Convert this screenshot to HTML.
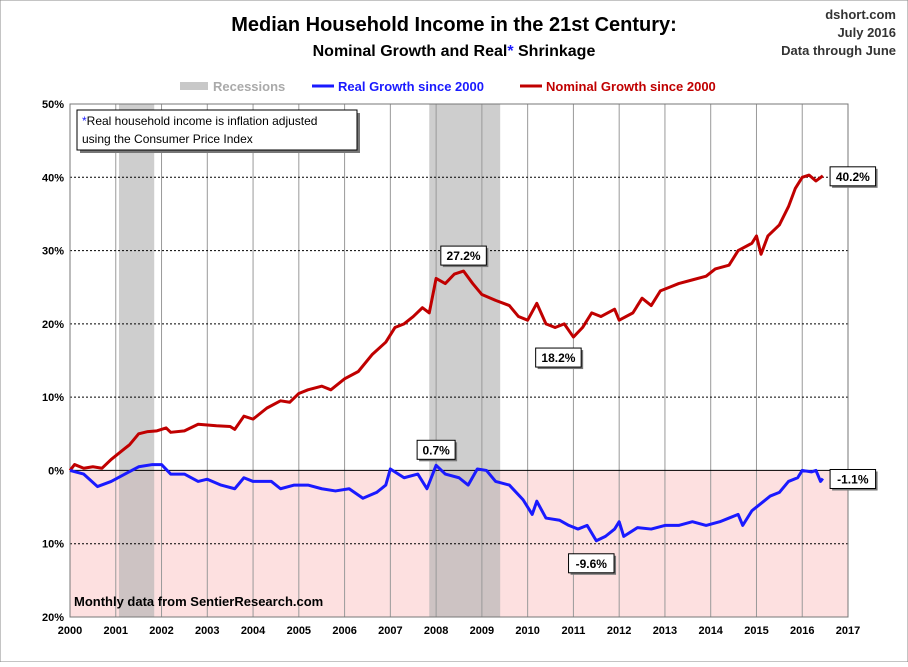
<!DOCTYPE html>
<html><head><meta charset="utf-8"><style>
body{margin:0;background:#fff;font-family:"Liberation Sans",Arial,sans-serif;}
svg text{font-family:"Liberation Sans",Arial,sans-serif;}
</style></head><body>
<svg id="chart" width="908" height="662" xmlns="http://www.w3.org/2000/svg">
<rect x="0" y="0" width="908" height="662" fill="#fff" stroke="#888"/>
<text x="454" y="31" text-anchor="middle" font-size="20" font-weight="bold">Median Household Income in the 21st Century:</text>
<text x="454" y="56" text-anchor="middle" font-size="16" font-weight="bold">Nominal  Growth and Real<tspan fill="#1a1aff">*</tspan> Shrinkage</text>
<text x="896" y="19" text-anchor="end" font-size="13" font-weight="bold" fill="#333">dshort.com</text>
<text x="896" y="37" text-anchor="end" font-size="13" font-weight="bold" fill="#333">July 2016</text>
<text x="896" y="55" text-anchor="end" font-size="13" font-weight="bold" fill="#333">Data through June</text>
<g>
<rect x="180" y="82" width="28" height="8" fill="#c8c8c8"/>
<text x="213" y="91" font-size="13" font-weight="bold" fill="#aaa">Recessions</text>
<line x1="312" y1="86" x2="334" y2="86" stroke="#1a1aff" stroke-width="3"/>
<text x="338" y="91" font-size="13" font-weight="bold" fill="#1a1aff">Real Growth since 2000</text>
<line x1="520" y1="86" x2="542" y2="86" stroke="#c00000" stroke-width="3"/>
<text x="546" y="91" font-size="13" font-weight="bold" fill="#c00000">Nominal Growth since 2000</text>
</g>
<g id="plot"></g>
</svg>
<script>
const recessionStarts=[2001.07,2007.85];
const recessionEnds=[2001.84,2009.4];
const yTicks=[50,40,30,20,10,0,-10,-20];
const yTickLabels=["50%","40%","30%","20%","10%","0%","10%","20%"];
const xTicks=[2000,2001,2002,2003,2004,2005,2006,2007,2008,2009,2010,2011,2012,2013,2014,2015,2016,2017];
const nominalDates=[2000.0,2000.1,2000.3,2000.5,2000.7,2000.9,2001.1,2001.3,2001.5,2001.7,2001.9,2002.1,2002.2,2002.5,2002.8,2003.0,2003.2,2003.5,2003.6,2003.8,2004.0,2004.3,2004.6,2004.8,2005.0,2005.2,2005.5,2005.7,2006.0,2006.3,2006.6,2006.9,2007.1,2007.3,2007.5,2007.7,2007.85,2008.0,2008.2,2008.4,2008.6,2008.8,2009.0,2009.3,2009.6,2009.8,2010.0,2010.2,2010.4,2010.6,2010.8,2011.0,2011.2,2011.4,2011.6,2011.9,2012.0,2012.3,2012.5,2012.7,2012.9,2013.1,2013.3,2013.6,2013.9,2014.1,2014.4,2014.6,2014.9,2015.0,2015.1,2015.25,2015.5,2015.7,2015.85,2016.0,2016.15,2016.3,2016.45];
const nominalValues=[0,0.8,0.3,0.5,0.3,1.5,2.5,3.5,5,5.3,5.4,5.8,5.2,5.4,6.3,6.2,6.1,6.0,5.6,7.4,7.0,8.5,9.5,9.3,10.5,11.0,11.5,11.0,12.5,13.5,15.8,17.5,19.5,20.0,21.0,22.2,21.5,26.2,25.5,26.8,27.2,25.5,24.0,23.2,22.5,21.0,20.5,22.8,20.0,19.5,20.0,18.2,19.5,21.5,21.0,22.0,20.5,21.5,23.5,22.5,24.5,25.0,25.5,26.0,26.5,27.5,28.0,30.0,31.0,32.0,29.5,32.0,33.5,36.0,38.5,40.0,40.3,39.5,40.2];
const realDates=[2000.0,2000.3,2000.6,2000.9,2001.2,2001.5,2001.8,2002.0,2002.2,2002.5,2002.8,2003.0,2003.3,2003.6,2003.8,2004.0,2004.4,2004.6,2004.9,2005.2,2005.5,2005.8,2006.1,2006.4,2006.7,2006.9,2007.0,2007.3,2007.6,2007.8,2008.0,2008.2,2008.5,2008.7,2008.9,2009.1,2009.3,2009.6,2009.9,2010.1,2010.2,2010.4,2010.7,2010.9,2011.1,2011.3,2011.5,2011.7,2011.9,2012.0,2012.1,2012.4,2012.7,2013.0,2013.3,2013.6,2013.9,2014.2,2014.4,2014.6,2014.7,2014.9,2015.1,2015.3,2015.5,2015.7,2015.9,2016.0,2016.2,2016.3,2016.4,2016.45];
const realValues=[0,-0.5,-2.2,-1.5,-0.5,0.5,0.8,0.8,-0.5,-0.5,-1.5,-1.2,-2.0,-2.5,-1.0,-1.5,-1.5,-2.5,-2.0,-2.0,-2.5,-2.8,-2.5,-3.8,-3.0,-2.0,0.2,-1.0,-0.5,-2.5,0.7,-0.5,-1.0,-2.0,0.2,0,-1.5,-2.0,-4.0,-6.0,-4.2,-6.5,-6.8,-7.5,-8.0,-7.5,-9.6,-9.0,-8.0,-7.0,-9.0,-7.8,-8.0,-7.5,-7.5,-7.0,-7.5,-7.0,-6.5,-6.0,-7.5,-5.5,-4.5,-3.5,-3.0,-1.5,-1.0,0,-0.2,0,-1.5,-1.1];
const calloutDates=[2008.6,2011.0,2016.45,2008.0,2011.5,2016.45];
const calloutValues=[27.2,18.2,40.2,0.7,-9.6,-1.1];
const calloutTexts=["27.2%","18.2%","40.2%","0.7%","-9.6%","-1.1%"];

const L=70,R=848,T=104,B=617;
const x=d=>L+(d-2000)/17*(R-L);
const y=v=>T+(50-v)/70*(B-T);
const NS="http://www.w3.org/2000/svg";
const g=document.getElementById('plot');
function mk(tag,attrs){const e=document.createElementNS(NS,tag);for(const k in attrs)e.setAttribute(k,attrs[k]);g.appendChild(e);return e;}

let e=mk('rect',{x:L,y:y(0),width:R-L,height:B-y(0),fill:'#fde0e0'});


recessionStarts.forEach((s,i)=>{
 const r=mk('rect',{x:x(s),y:T,width:x(recessionEnds[i])-x(s),height:B-T,fill:'#b4b4b4','fill-opacity':0.65});
 
 
});
xTicks.forEach(t=>{
 const l=mk('line',{x1:x(t),y1:T,x2:x(t),y2:B,stroke:'#999','stroke-width':1});
 
 
 const tx=mk('text',{x:x(t),y:B+17,'text-anchor':'middle','font-size':11,'font-weight':'bold'});
 tx.textContent=t;
 
 
});
yTicks.forEach((t,i)=>{
 const l=mk('line',{x1:L,y1:y(t),x2:R,y2:y(t),stroke:'#000','stroke-width':1,'stroke-dasharray':t===0?'none':'2,2'});
 
 
 const tx=mk('text',{x:L-6,y:y(t)+4,'text-anchor':'end','font-size':11,'font-weight':'bold'});
 tx.textContent=yTickLabels[i];
 
 
});
e=mk('rect',{x:L,y:T,width:R-L,height:B-T,fill:'none',stroke:'#777'});


const nom=mk('polyline',{points:nominalDates.map((d,i)=>x(d)+','+y(nominalValues[i])).join(' '),fill:'none',stroke:'#c00000','stroke-width':3,'stroke-linejoin':'round'});


const real=mk('polyline',{points:realDates.map((d,i)=>x(d)+','+y(realValues[i])).join(' '),fill:'none',stroke:'#1a1aff','stroke-width':3,'stroke-linejoin':'round'});


const offs=[[-0,-16],[-15,20],[30,0],[0,-16],[-5,22],[30,0]];
calloutDates.forEach((d,i)=>{
 const cx=x(d)+offs[i][0],cy=y(calloutValues[i])+offs[i][1];
 const w=calloutTexts[i].length*7.5+8;
 const sh=mk('rect',{x:cx-w/2+2,y:cy-9+2,width:w,height:19,fill:'#777'});
 
 
 const b=mk('rect',{x:cx-w/2,y:cy-9,width:w,height:19,fill:'#fff',stroke:'#000'});
 
 
 const t=mk('text',{x:cx,y:cy+5,'text-anchor':'middle','font-size':12,'font-weight':'bold'});
 t.textContent=calloutTexts[i];
 
 
});
e=mk('rect',{x:80,y:113,width:280,height:40,fill:'#777'});


e=mk('rect',{x:77,y:110,width:280,height:40,fill:'#fff',stroke:'#000'});


e=mk('text',{x:82,y:125,'font-size':12});
e.innerHTML='<tspan fill="#1a1aff">*</tspan>Real household  income is inflation adjusted';


e=mk('text',{x:82,y:143,'font-size':12});
e.textContent='using  the Consumer Price Index';


e=mk('text',{x:74,y:606,'font-size':13,'font-weight':'bold'});
e.textContent='Monthly data from SentierResearch.com';


</script>
</body></html>
